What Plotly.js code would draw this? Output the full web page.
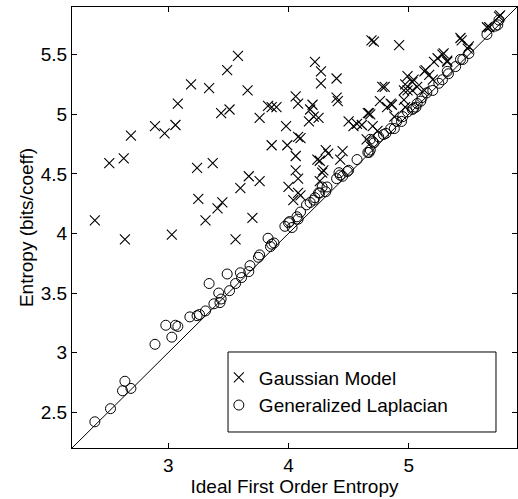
<!DOCTYPE html>
<html>
<head>
<meta charset="utf-8">
<script src="https://cdn.plot.ly/plotly-3.0.1.min.js"></script>
<style>
  html, body { margin: 0; padding: 0; background: #fff; }
  #chart { width: 518px; height: 499px; }
</style>
</head>
<body>
<div id="chart"></div>
<script>
// Gaussian Model (x marks)
const gaussX = [2.39, 2.51, 2.63, 2.69, 2.64, 2.89, 2.97, 3.06, 3.08, 3.03,
  3.19, 3.34, 3.49, 3.58, 3.66, 3.44, 3.51, 3.76, 3.83, 3.86,
  3.90, 3.98, 3.86, 3.99, 3.24, 3.37, 3.67, 3.76, 3.60, 3.25,
  3.45, 3.41, 3.31, 3.70, 3.56, 4.00, 4.22, 4.27, 4.27, 4.40,
  4.69, 4.71, 4.92, 4.80, 4.06, 4.08, 4.20, 4.18, 4.21, 4.25,
  4.17, 4.40, 4.41, 4.50, 4.57, 4.66, 4.68, 4.70, 4.76, 4.86,
  4.08, 4.06, 4.06, 4.08, 4.08, 4.04, 4.31, 4.33, 4.26, 4.45,
  4.43, 4.28, 4.26, 4.99, 5.03, 4.97, 5.13, 5.21, 5.28, 5.32,
  5.44, 5.49, 5.75, 5.65, 4.99, 5.13, 5.20, 4.88, 4.74, 4.65,
  4.54, 5.43, 5.24, 5.17, 5.14, 5.04, 4.85, 4.97, 5.07, 5.03,
  4.67, 4.61, 4.10, 4.24, 4.29, 4.78, 4.82, 4.96, 4.96, 4.10,
  5.29, 5.32, 5.50, 5.67, 5.76];
const gaussY = [4.11, 4.59, 4.63, 4.82, 3.95, 4.90, 4.84, 4.91, 5.09, 3.99,
  5.25, 5.22, 5.37, 5.49, 5.20, 5.01, 5.04, 4.97, 5.07, 5.06,
  5.06, 4.90, 4.74, 4.74, 4.55, 4.59, 4.48, 4.44, 4.38, 4.29,
  4.26, 4.21, 4.11, 4.13, 3.95, 4.39, 5.44, 5.36, 5.26, 5.30,
  5.62, 5.61, 5.58, 5.23, 5.15, 5.09, 5.08, 5.04, 4.98, 4.97,
  4.94, 5.14, 5.11, 4.94, 4.92, 5.01, 5.00, 4.90, 5.11, 5.08,
  4.81, 4.65, 4.53, 4.46, 4.34, 4.28, 4.70, 4.67, 4.61, 4.69,
  4.62, 4.51, 4.44, 5.32, 5.27, 5.25, 5.36, 5.44, 5.50, 5.44,
  5.62, 5.55, 5.82, 5.73, 5.20, 5.20, 5.29, 4.98, 4.86, 4.79,
  4.90, 5.64, 5.47, 5.33, 5.37, 5.29, 5.09, 5.06, 5.23, 5.20,
  5.01, 4.91, 4.80, 4.62, 4.53, 5.23, 5.06, 5.12, 5.20, 4.32,
  5.51, 5.45, 5.57, 5.73, 5.83];

// Generalized Laplacian (o marks)
const lapX = [2.39, 2.52, 2.64, 2.62, 2.69, 2.89, 2.98, 3.03, 3.06, 3.08,
  3.18, 3.24, 3.26, 3.31, 3.34, 3.38, 3.42, 3.44, 3.43, 3.49,
  3.51, 3.56, 3.60, 3.61, 3.67, 3.68, 3.76, 3.75, 3.85, 3.88,
  3.83, 3.86, 4.00, 4.03, 4.07, 4.10, 4.08, 4.18, 4.22, 4.25,
  4.28, 4.31, 4.32, 4.40, 4.43, 4.50, 4.57, 4.68, 4.67, 4.68,
  4.71, 4.75, 4.81, 4.85, 4.90, 4.95, 4.99, 5.04, 5.07, 5.11,
  5.15, 5.20, 5.25, 5.28, 5.33, 5.39, 5.45, 5.50, 5.65, 5.72,
  5.75, 3.97, 4.01, 4.15, 4.21, 4.26, 4.42, 4.45, 4.49, 4.66,
  4.70, 4.79, 4.88, 4.94, 5.03, 5.06, 5.10, 5.32, 5.43, 5.74];
const lapY = [2.42, 2.53, 2.76, 2.68, 2.70, 3.07, 3.23, 3.13, 3.23, 3.22,
  3.30, 3.31, 3.32, 3.35, 3.58, 3.41, 3.50, 3.45, 3.42, 3.66,
  3.52, 3.58, 3.67, 3.63, 3.68, 3.73, 3.82, 3.80, 3.89, 3.92,
  3.96, 3.91, 4.09, 4.05, 4.14, 4.18, 4.12, 4.26, 4.30, 4.34,
  4.39, 4.35, 4.39, 4.46, 4.49, 4.53, 4.62, 4.70, 4.68, 4.79,
  4.76, 4.81, 4.84, 4.88, 4.94, 4.98, 5.02, 5.05, 5.09, 5.14,
  5.18, 5.20, 5.26, 5.29, 5.34, 5.40, 5.46, 5.51, 5.67, 5.74,
  5.79, 4.06, 4.10, 4.24, 4.28, 4.34, 4.51, 4.48, 4.52, 4.68,
  4.77, 4.83, 4.88, 4.94, 5.04, 5.06, 5.11, 5.36, 5.46, 5.75];

// identity reference line
const diagX = [2.2, 5.9];
const diagY = [2.2, 5.9];

const xTicks = [3, 4, 5];
const yTicks = [2.5, 3, 3.5, 4, 4.5, 5, 5.5];

const FONT = 'Liberation Sans, Arial, Helvetica, sans-serif';

const traces = [
  {
    x: diagX, y: diagY, type: 'scatter', mode: 'lines',
    line: {color: '#000', width: 1}, showlegend: false, hoverinfo: 'skip'
  },
  {
    x: gaussX, y: gaussY, type: 'scatter', mode: 'markers', name: 'Gaussian Model',
    marker: {symbol: 'x-thin-open', size: 10, color: '#000', line: {color: '#000', width: 1.1}}
  },
  {
    x: lapX, y: lapY, type: 'scatter', mode: 'markers', name: 'Generalized Laplacian',
    marker: {symbol: 'circle-open', size: 10, color: '#000', line: {color: '#000', width: 1}}
  }
];

const axisCommon = {
  showgrid: false, zeroline: false,
  showline: true, linecolor: '#000', linewidth: 1, mirror: 'ticks',
  ticks: 'inside', ticklen: 5, tickcolor: '#000', tickwidth: 1,
  tickfont: {family: FONT, size: 19, color: '#000'}
};

const layout = {
  width: 518, height: 499,
  margin: {l: 72, r: 1, t: 7, b: 51, pad: 0},
  paper_bgcolor: '#fff', plot_bgcolor: '#fff',
  font: {family: FONT, size: 19, color: '#000'},
  xaxis: Object.assign({}, axisCommon, {
    range: [2.2, 5.9], tickmode: 'array', tickvals: xTicks,
    title: {text: 'Ideal First Order Entropy', font: {family: FONT, size: 19, color: '#000'}, standoff: 4}
  }),
  yaxis: Object.assign({}, axisCommon, {
    range: [2.2, 5.9], tickmode: 'array', tickvals: yTicks,
    title: {text: 'Entropy (bits/coeff)', font: {family: FONT, size: 19, color: '#000'}, standoff: 2}
  }),
  showlegend: true,
  legend: {
    x: 0.33, y: 0.203, xanchor: 'left', yanchor: 'top',
    bgcolor: 'rgba(0,0,0,0)', borderwidth: 0,
    font: {family: FONT, size: 19, color: '#000'}
  },
  shapes: [{
    type: 'rect', xref: 'paper', yref: 'paper',
    x0: 0.3506, x1: 0.9528, y0: 0.0363, y1: 0.2177,
    line: {color: '#000', width: 1}, fillcolor: '#fff', layer: 'below'
  }]
};

Plotly.newPlot('chart', traces, layout, {displayModeBar: false, staticPlot: true});
</script>
</body>
</html>
